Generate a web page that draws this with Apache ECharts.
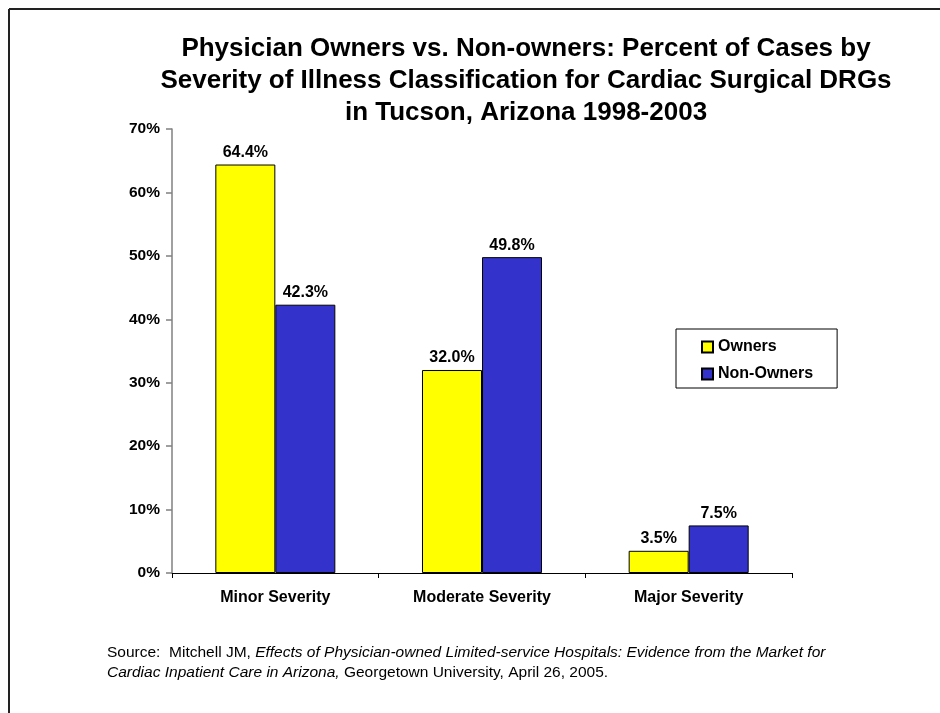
<!DOCTYPE html>
<html>
<head>
<meta charset="utf-8">
<script src="https://cdn.jsdelivr.net/npm/echarts@6/dist/echarts.min.js"></script>
<style>
html,body{margin:0;padding:0;background:#fff;}
#chart{width:940px;height:713px;}
</style>
</head>
<body>
<div id="chart"></div>
<script>
const categories = ['Minor Severity', 'Moderate Severity', 'Major Severity'];
const ownersValues = [64.4, 32.0, 3.5];
const nonOwnersValues = [42.3, 49.8, 7.5];
const seriesNames = ['Owners', 'Non-Owners'];
const yTicks = [0, 10, 20, 30, 40, 50, 60, 70];

const FONT = '"Liberation Sans", Arial, sans-serif';
const chart = echarts.init(document.getElementById('chart'));

const labelCfg = {
  show: true,
  position: 'top',
  distance: 4,
  color: '#000',
  fontFamily: FONT,
  fontWeight: 'bold',
  fontSize: 16,
  formatter: p => p.value.toFixed(1) + '%'
};

chart.setOption({
  backgroundColor: '#fff',
  animation: false,
  title: {
    text: 'Physician Owners vs. Non-owners: Percent of Cases by\nSeverity of Illness Classification for Cardiac Surgical DRGs\nin Tucson, Arizona 1998-2003',
    left: 521,
    top: 28,
    textAlign: 'center',
    textStyle: {
      fontFamily: FONT,
      fontWeight: 'bold',
      fontSize: 26,
      lineHeight: 32,
      color: '#000'
    }
  },
  legend: {
    orient: 'vertical',
    left: 676,
    top: 329,
    padding: [10, 24, 6, 25],
    itemGap: 11,
    itemWidth: 11,
    itemHeight: 11,
    itemTextGap: 2,
    borderColor: '#000',
    borderWidth: 1,
    icon: 'rect',
    data: seriesNames,
    textStyle: {
      fontFamily: FONT,
      fontWeight: 'bold',
      fontSize: 16,
      color: '#000'
    }
  },
  grid: {
    left: 172,
    right: 148,
    top: 129,
    bottom: 140,
    containLabel: false
  },
  xAxis: {
    type: 'category',
    data: categories,
    axisLine: { lineStyle: { color: '#000', width: 1 } },
    axisTick: { show: true, length: 5, lineStyle: { color: '#000' } },
    axisLabel: {
      margin: 17,
      color: '#000',
      fontFamily: FONT,
      fontWeight: 'bold',
      fontSize: 16
    }
  },
  yAxis: {
    type: 'value',
    min: yTicks[0],
    max: yTicks[yTicks.length - 1],
    interval: 10,
    splitLine: { show: false },
    axisLine: { show: true, lineStyle: { color: '#808080', width: 1.5 } },
    axisTick: { show: true, length: 6, lineStyle: { color: '#808080', width: 1.5 } },
    axisLabel: {
      margin: 12,
      color: '#000',
      fontFamily: FONT,
      fontWeight: 'bold',
      fontSize: 15.5,
      formatter: '{value}%'
    }
  },
  series: [
    {
      name: seriesNames[0],
      type: 'bar',
      data: ownersValues,
      barWidth: 60,
      barGap: '0%',
      itemStyle: { color: '#FFFF00', borderColor: '#000', borderWidth: 1 },
      label: labelCfg
    },
    {
      name: seriesNames[1],
      type: 'bar',
      data: nonOwnersValues,
      barWidth: 60,
      barGap: '0%',
      itemStyle: { color: '#3333CC', borderColor: '#000', borderWidth: 1 },
      label: labelCfg
    }
  ],
  graphic: [
    { type: 'line', shape: { x1: 9, y1: 9, x2: 940, y2: 9 }, style: { stroke: '#222', lineWidth: 2 } },
    { type: 'line', shape: { x1: 9, y1: 9, x2: 9, y2: 713 }, style: { stroke: '#222', lineWidth: 2 } },
    {
      type: 'text',
      left: 107,
      top: 645,
      style: {
        text: '{n|Source:  Mitchell JM, }{i|Effects of Physician-owned Limited-service Hospitals: Evidence from the Market for}\n{i|Cardiac Inpatient Care in Arizona,}{n| Georgetown University, April 26, 2005.}',
        rich: {
          n: { fontFamily: FONT, fontSize: 15.5, lineHeight: 20, fill: '#000' },
          i: { fontFamily: FONT, fontSize: 15.5, fontStyle: 'italic', lineHeight: 20, fill: '#000' }
        }
      }
    }
  ]
});
</script>
</body>
</html>
